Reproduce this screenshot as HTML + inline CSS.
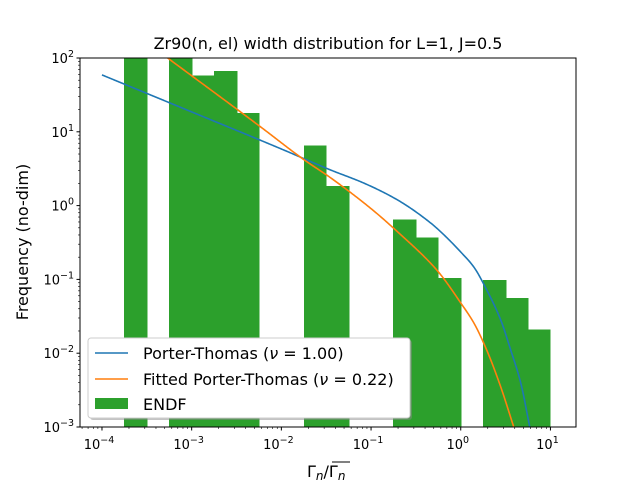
<!DOCTYPE html>
<html><head><meta charset="utf-8"><style>
body{margin:0;background:#fff;}
svg{font-family:"DejaVu Sans","Liberation Sans",sans-serif;}
</style></head><body>
<svg id="c" width="640" height="480"></svg>
<script>
const binLogEdges=[-3.75,-3.25,-3.0,-2.75,-2.5,-1.75,-1.5,-0.75,-0.5,-0.25,0.25,0.5,0.75];
const binValues=[100,120,58,67,18,6.5,1.85,0.65,0.37,0.105,0.098,0.056,0.021];
const ptX=[1e-4,1e-3,1e-2,0.0356,0.083,0.198,0.463,0.60,1.0,1.40,1.95,2.79,3.61,4.67,5.88];
const ptY=[59,18.6,5.85,3.03,2.02,1.19,0.58,0.44,0.235,0.147,0.0718,0.0282,0.011,0.00394,0.001];
const fitX=[1e-4,5.4e-4,0.0059,0.0178,0.0356,0.107,0.198,0.463,0.60,1.0,1.40,1.95,2.79,3.9];
const fitY=[457,100,11.6,4.2,2.37,0.85,0.44,0.165,0.115,0.048,0.0257,0.011,0.0035,0.001];
const xTicks=[-4,-3,-2,-1,0,1];
const yTicks=[-3,-2,-1,0,1,2];
const L=80,R=576,T=58,B=427;
const xmin=-4.245,xmax=1.285,ymin=-3,ymax=2;
const sx=v=>L+(Math.log10(v)-xmin)/(xmax-xmin)*(R-L);
const sxl=l=>L+(l-xmin)/(xmax-xmin)*(R-L);
const sy=v=>B-(Math.log10(v)-ymin)/(ymax-ymin)*(B-T);
const syl=l=>B-(l-ymin)/(ymax-ymin)*(B-T);
const svg=document.getElementById('c');
const NS='http://www.w3.org/2000/svg';
function mk(t,a,p){const e=document.createElementNS(NS,t);for(const k in a)e.setAttribute(k,a[k]);(p||svg).appendChild(e);return e;}
const defs=mk('defs',{});
const cp=mk('clipPath',{id:'clip'},defs);mk('rect',{x:L,y:T,width:R-L,height:B-T},cp);
const plot=mk('g',{'clip-path':'url(#clip)'});


binLogEdges.forEach((e,i)=>{
  const x0=Math.round(sxl(e)),x1=Math.round(sxl(e+0.25)),y=sy(binValues[i]);
  const r=mk('rect',{x:x0,y:y,width:x1-x0+0.5,height:B-y,fill:'#2ca02c','shape-rendering':'crispEdges'},plot);
  
  
});
function mono(xs,ys){
  const n=xs.length,h=[],d=[],m=new Array(n);
  for(let i=0;i<n-1;i++){h.push(xs[i+1]-xs[i]);d.push((ys[i+1]-ys[i])/h[i]);}
  m[0]=d[0];m[n-1]=d[n-2];
  for(let i=1;i<n-1;i++){m[i]=(d[i-1]*d[i]<=0)?0:(h[i-1]+h[i])*3/((2*h[i]+h[i-1])/d[i-1]+(h[i]+2*h[i-1])/d[i]);}
  return x=>{let i=0;while(i<n-2&&x>xs[i+1])i++;const t=(x-xs[i])/h[i],t2=t*t,t3=t2*t;
    return (2*t3-3*t2+1)*ys[i]+(t3-2*t2+t)*h[i]*m[i]+(-2*t3+3*t2)*ys[i+1]+(t3-t2)*h[i]*m[i+1];};
}
function line(xs,ys,col,name){
  const lx=xs.map(Math.log10),ly=ys.map(Math.log10),f=mono(lx,ly);
  let d='';const N=400;
  for(let k=0;k<=N;k++){const l=lx[0]+(lx[lx.length-1]-lx[0])*k/N;d+=(k?' L':'M')+sxl(l).toFixed(2)+','+syl(f(l)).toFixed(2);}
  const e=mk('path',{d:d,fill:'none',stroke:col,'stroke-width':1.6},plot);
  
  
}
line(ptX,ptY,'#1f77b4','porter-thomas-line');
line(fitX,fitY,'#ff7f0e','fitted-porter-thomas-line');
const frame=mk('rect',{x:L,y:T,width:R-L,height:B-T,fill:'none',stroke:'#000','stroke-width':1});


xTicks.forEach(t=>{
  const x=sxl(t);
  mk('line',{x1:x,x2:x,y1:B,y2:B+3.5,stroke:'#000'});
  const tx=mk('text',{x:x-3,y:B+22,'font-size':13,'text-anchor':'middle'});
  
  
  tx.innerHTML='10<tspan dy="-6" font-size="9.5">'+(t<0?'\u2212'+Math.abs(t):t)+'</tspan>';
});
for(let d=-5;d<=1;d++)for(let k=2;k<=9;k++){const l=d+Math.log10(k);if(l>xmin&&l<xmax){const x=sxl(l);mk('line',{x1:x,x2:x,y1:B,y2:B+2,stroke:'#000','stroke-width':0.6});}}
yTicks.forEach(t=>{
  const y=syl(t);
  mk('line',{x1:L-3.5,x2:L,y1:y,y2:y,stroke:'#000'});
  const tx=mk('text',{x:L-6,y:y+5,'font-size':13,'text-anchor':'end'});
  
  
  tx.innerHTML='10<tspan dy="-6" font-size="9.5">'+(t<0?'\u2212'+Math.abs(t):t)+'</tspan>';
});
for(let d=-3;d<2;d++)for(let k=2;k<=9;k++){const y=syl(d+Math.log10(k));mk('line',{x1:L-2,x2:L,y1:y,y2:y,stroke:'#000','stroke-width':0.6});}
</script>
<svg width="640" height="480" style="position:absolute;left:0;top:0">
<text x="328" y="49" font-size="16" text-anchor="middle" font-family="DejaVu Sans,Liberation Sans,sans-serif">Zr90(n, el) width distribution for L=1, J=0.5</text>
<text transform="translate(28,242) rotate(-90)" font-size="16" text-anchor="middle" font-family="DejaVu Sans,Liberation Sans,sans-serif">Frequency (no-dim)</text>
<text x="307" y="477" font-size="16" font-family="DejaVu Sans,Liberation Sans,sans-serif">Γ<tspan font-size="12" font-style="italic" dy="3">n</tspan><tspan dy="-3">/Γ</tspan><tspan font-size="12" font-style="italic" dy="3">n</tspan></text>
<line x1="332" x2="350" y1="462" y2="462" stroke="#000" stroke-width="1"/>
<g>
<rect x="90" y="340" width="322" height="80" rx="3" fill="#888" opacity="0.5"/>
<rect x="88" y="338" width="322" height="80" rx="3" fill="#fff" stroke="#ccc"/>
<line x1="95" x2="128" y1="353" y2="353" stroke="#1f77b4" stroke-width="1.6"/>
<text x="143" y="359" font-size="16" font-family="DejaVu Sans,Liberation Sans,sans-serif">Porter-Thomas (<tspan font-style="italic">ν</tspan> = 1.00)</text>
<line x1="95" x2="128" y1="379" y2="379" stroke="#ff7f0e" stroke-width="1.6"/>
<text x="143" y="385" font-size="16" font-family="DejaVu Sans,Liberation Sans,sans-serif">Fitted Porter-Thomas (<tspan font-style="italic">ν</tspan> = 0.22)</text>
<rect x="95" y="398" width="33" height="11" fill="#2ca02c"/>
<text x="143" y="410" font-size="16" font-family="DejaVu Sans,Liberation Sans,sans-serif">ENDF</text>
</g>
</svg>
</body></html>
